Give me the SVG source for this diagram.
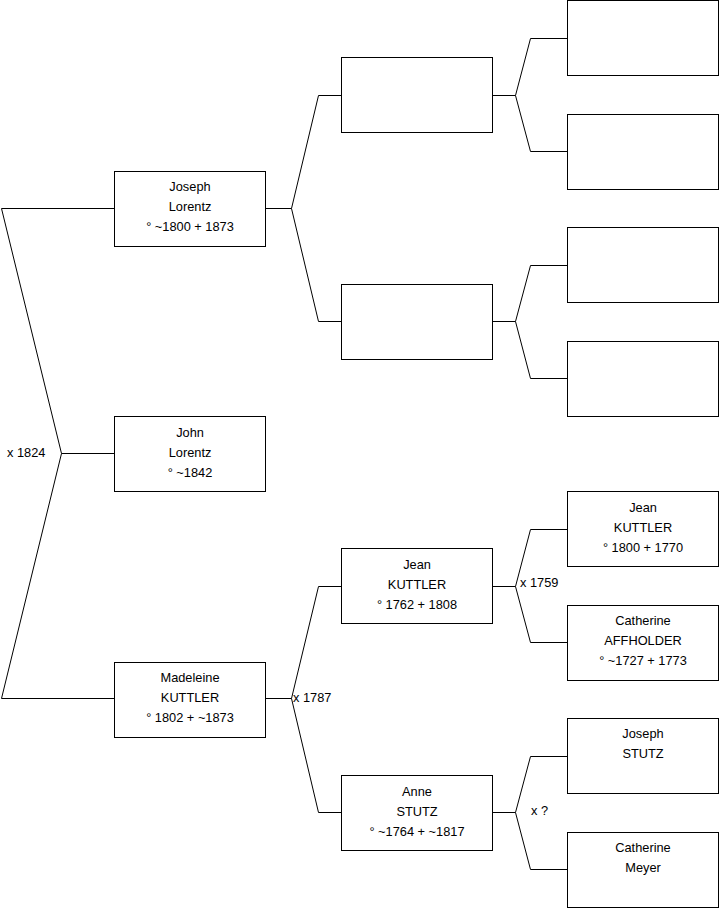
<svg xmlns="http://www.w3.org/2000/svg" width="719" height="908" viewBox="0 0 719 908">
<style>
.box{fill:#fff;stroke:#000;stroke-width:1}
.ln{fill:none;stroke:#000;stroke-width:1}
text{font-family:"Liberation Sans",Arial,sans-serif;font-size:12.8px;fill:#000}
.c{text-anchor:middle}
</style>
<rect width="719" height="908" fill="#fff"/>
<g id="connectors">
<polyline class="ln" points="114,208.5 1.5,208.5 61.5,453.5 1.5,698.5 114,698.5"/>
<line class="ln" x1="61.5" y1="453.5" x2="114" y2="453.5"/>
<polyline class="ln" points="341,95.5 318.5,95.5 291.5,208.5 318.5,321.5 341,321.5"/>
<line class="ln" x1="265" y1="208.5" x2="291.5" y2="208.5"/>
<polyline class="ln" points="567,38.5 530.5,38.5 515.5,95.5 530.5,151.5 567,151.5"/>
<line class="ln" x1="492" y1="95.5" x2="515.5" y2="95.5"/>
<polyline class="ln" points="567,265.5 530.5,265.5 515.5,321.5 530.5,378.5 567,378.5"/>
<line class="ln" x1="492" y1="321.5" x2="515.5" y2="321.5"/>
<polyline class="ln" points="341,586.5 318.5,586.5 291.5,698.5 318.5,812.5 341,812.5"/>
<line class="ln" x1="265" y1="698.5" x2="291.5" y2="698.5"/>
<polyline class="ln" points="567,529.5 530.5,529.5 515.5,586.5 530.5,642.5 567,642.5"/>
<line class="ln" x1="492" y1="586.5" x2="515.5" y2="586.5"/>
<polyline class="ln" points="567,756.5 530.5,756.5 515.5,812.5 530.5,869.5 567,869.5"/>
<line class="ln" x1="492" y1="812.5" x2="515.5" y2="812.5"/>
<text x="7" y="457">x 1824</text>
<text x="293" y="702">x 1787</text>
<text x="520" y="587">x 1759</text>
<text x="531" y="815">x ?</text>
</g>
<g id="joseph-lorentz">
<rect class="box" x="114.5" y="171.5" width="151" height="75"/>
<text class="c" x="190" y="191">Joseph</text>
<text class="c" x="190" y="211">Lorentz</text>
<text class="c" x="190" y="231">° ~1800 + 1873</text>
</g>
<g id="john-lorentz">
<rect class="box" x="114.5" y="416.5" width="151" height="75"/>
<text class="c" x="190" y="437">John</text>
<text class="c" x="190" y="457">Lorentz</text>
<text class="c" x="190" y="477">° ~1842</text>
</g>
<g id="madeleine-kuttler">
<rect class="box" x="114.5" y="662.5" width="151" height="75"/>
<text class="c" x="190" y="682">Madeleine</text>
<text class="c" x="190" y="702">KUTTLER</text>
<text class="c" x="190" y="722">° 1802 + ~1873</text>
</g>
<g id="g3-1"><rect class="box" x="341.5" y="57.5" width="151" height="75"/></g>
<g id="g3-2"><rect class="box" x="341.5" y="284.5" width="151" height="75"/></g>
<g id="jean-kuttler-1762">
<rect class="box" x="341.5" y="548.5" width="151" height="75"/>
<text class="c" x="417" y="569">Jean</text>
<text class="c" x="417" y="589">KUTTLER</text>
<text class="c" x="417" y="609">° 1762 + 1808</text>
</g>
<g id="anne-stutz">
<rect class="box" x="341.5" y="775.5" width="151" height="75"/>
<text class="c" x="417" y="796">Anne</text>
<text class="c" x="417" y="816">STUTZ</text>
<text class="c" x="417" y="836">° ~1764 + ~1817</text>
</g>
<g id="g4-1"><rect class="box" x="567.5" y="0.5" width="151" height="75"/></g>
<g id="g4-2"><rect class="box" x="567.5" y="114.5" width="151" height="75"/></g>
<g id="g4-3"><rect class="box" x="567.5" y="227.5" width="151" height="75"/></g>
<g id="g4-4"><rect class="box" x="567.5" y="341.5" width="151" height="75"/></g>
<g id="jean-kuttler-1800">
<rect class="box" x="567.5" y="491.5" width="151" height="75"/>
<text class="c" x="643" y="512">Jean</text>
<text class="c" x="643" y="532">KUTTLER</text>
<text class="c" x="643" y="552">° 1800 + 1770</text>
</g>
<g id="catherine-affholder">
<rect class="box" x="567.5" y="605.5" width="151" height="75"/>
<text class="c" x="643" y="625">Catherine</text>
<text class="c" x="643" y="645">AFFHOLDER</text>
<text class="c" x="643" y="665">° ~1727 + 1773</text>
</g>
<g id="joseph-stutz">
<rect class="box" x="567.5" y="718.5" width="151" height="75"/>
<text class="c" x="643" y="738">Joseph</text>
<text class="c" x="643" y="758">STUTZ</text>
</g>
<g id="catherine-meyer">
<rect class="box" x="567.5" y="832.5" width="151" height="75"/>
<text class="c" x="643" y="852">Catherine</text>
<text class="c" x="643" y="872">Meyer</text>
</g>
</svg>
